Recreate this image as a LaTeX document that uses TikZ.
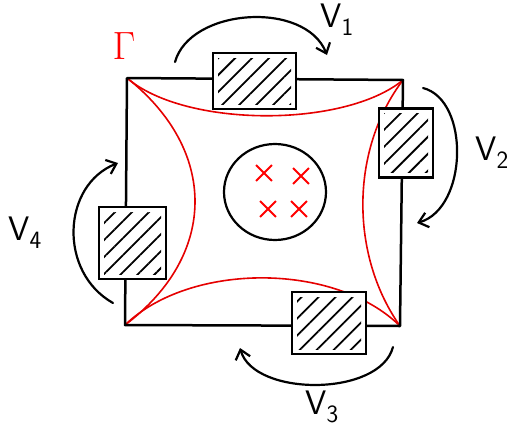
\documentclass[tikz,border=0pt]{standalone}
\usetikzlibrary{arrows.meta,patterns.meta,shapes.misc,shapes.geometric}
\begin{document}
\begin{tikzpicture}[x=1pt,y=-1pt,
  edge/.style={line width=2.5pt,line join=round,line cap=round},
  hatchbox/.style={draw,line width=2.5pt,fill=white,inner sep=0pt,
    path picture={\fill[pattern={Lines[angle=45,distance=12pt,line width=1.8pt]}]
      ([shift={(5pt,-5pt)}]path picture bounding box.north west) rectangle
      ([shift={(-5pt,5pt)}]path picture bounding box.south east);}},
  gam/.style={red!90!black,line width=1.6pt},
  turn/.style={line width=2.2pt,line cap=round,-{Straight Barb[length=9pt,width=15pt,line width=2.2pt]}},
  lab/.style={font=\sffamily\fontsize{34}{34}\selectfont,inner sep=0pt},
  xmark/.style={cross out,draw=red,line width=1.8pt,minimum size=14pt,inner sep=0pt}]
\useasboundingbox (0,0) rectangle (515,429);
% corners
\coordinate (TL) at (127,78);
\coordinate (TR) at (403,80);
\coordinate (BR) at (400,326);
\coordinate (BL) at (125,325);
% red boundary Gamma
\draw[gam] (TL) .. controls (185,128) and (345,128) .. (TR);
\draw[gam] (TR) .. controls (350,150) and (350,255) .. (BR);
\draw[gam] (BR) .. controls (335,262) and (190,262) .. (BL);
\draw[gam] (BL) .. controls (218,255) and (218,150) .. (TL);
% square
\draw[edge] (TL) -- (TR) -- (BR) -- (BL) -- cycle;
% hatched boxes
\node[hatchbox,minimum width=83pt,minimum height=56pt] (b1) at (254.5,81) {};
\node[hatchbox,minimum width=54pt,minimum height=69pt] (b2) at (406,143) {};
\node[hatchbox,minimum width=74pt,minimum height=62pt] (b3) at (329,323) {};
\node[hatchbox,minimum width=67pt,minimum height=72pt] (b4) at (132.5,243) {};
% circle with crosses
\node[draw,line width=2.2pt,ellipse,minimum width=102pt,minimum height=96pt] (ring) at (275,192) {};
\node[xmark] (x1) at (264,173) {};
\node[xmark] (x2) at (301,176) {};
\node[xmark] (x3) at (268,209) {};
\node[xmark] (x4) at (299,209) {};
% turning arrows
\coordinate (a1s) at (175,62);  \coordinate (a1e) at (327,55);
\coordinate (a2s) at (423,88);  \coordinate (a2e) at (417,223);
\coordinate (a3s) at (393,347); \coordinate (a3e) at (240,348);
\coordinate (a4s) at (113,303); \coordinate (a4e) at (118,163);
\draw[turn] (a1s) .. controls (190,8) and (305,0) .. (a1e);
\draw[turn] (a2s) .. controls (470,100) and (468,208) .. (a2e);
\draw[turn] (a3s) .. controls (380,397) and (254,397) .. (a3e);
\draw[turn] (a4s) .. controls (58,272) and (62,185) .. (a4e);
% labels
\node[lab] (l1) at (337,20) {V$_{\mathsf{1}}$};
\node[lab] (l2) at (492,153) {V$_{\mathsf{2}}$};
\node[lab] (l3) at (322,407) {V$_{\mathsf{3}}$};
\node[lab] (l4) at (25,233) {V$_{\mathsf{4}}$};
\node[text=red,inner sep=0pt] (gl) at (124,46) {\scalebox{1.9}{\fontsize{20}{20}\selectfont$\Gamma$}};
\end{tikzpicture}
\end{document}
